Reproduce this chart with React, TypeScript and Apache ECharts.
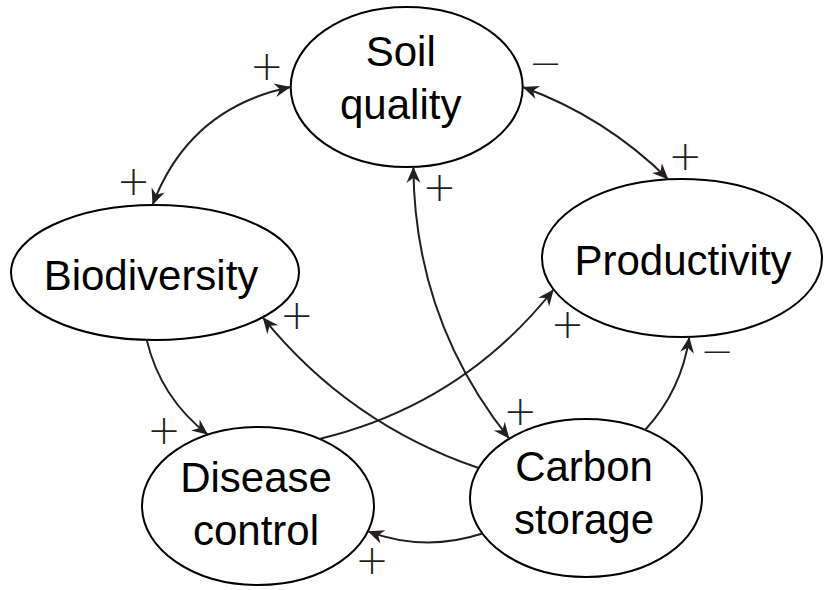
import React, { useEffect, useRef } from "react";
import * as echarts from "echarts";

// Nodes (diagram coordinates, 825 x 590 space, y downwards)
const nodeNames = ["Soil\nquality", "Biodiversity", "Productivity", "Disease\ncontrol", "Carbon\nstorage"];
const nodeX = [406.7, 155, 682, 258, 586];
const nodeY = [87, 272.5, 258, 506, 498];
const nodeRX = [116, 144, 140, 116, 116];
const nodeRY = [80, 67.5, 79, 79, 79];
const labelDx = [-6, -4, 1, -2, -2];
const labelDy = [-9, 3, 2, -2, -5];

// Edges: from -> to (arrow at "to"; both ends when edgeBoth)
const edgeFrom = [1, 0, 0, 4, 3, 1, 4, 4];
const edgeTo = [0, 2, 4, 1, 2, 3, 2, 3];
const edgeFromAngle = [269, 0, 86.7, 202.3, 301.9, 93.3, 300.6, 153.3];
const edgeToAngle = [180, 264.4, 228.6, 41.6, 156.5, 244.5, 87, 18.7];
const edgeBend = [50, 19, -50, 38, -48, -20, -16, 20];
const edgeBoth = [true, true, true, false, false, false, false, false];

// Signs at edge ends
const signFrom = ["+", "\u2212", "+", "", "", "", "", ""];
const signFromDx = [-19, 23, 26, 0, 0, 0, 0, 0];
const signFromDy = [-24, -24, 20, 0, 0, 0, 0, 0];
const signTo = ["+", "+", "+", "+", "+", "+", "\u2212", "+"];
const signToDx = [-24, 17, 11, 34, 14, -44, 28, 4];
const signToDy = [-21, -23, -28, -2, 34, -5, 14, 29];

const LINE = "#231f20";

function anchor(n: number, deg: number): number[] {
  const t = (deg * Math.PI) / 180;
  return [nodeX[n] + nodeRX[n] * Math.cos(t), nodeY[n] + nodeRY[n] * Math.sin(t)];
}

function edgeGeom(i: number) {
  const p0 = anchor(edgeFrom[i], edgeFromAngle[i]);
  const p2 = anchor(edgeTo[i], edgeToAngle[i]);
  const mx = (p0[0] + p2[0]) / 2;
  const my = (p0[1] + p2[1]) / 2;
  const dx = p2[0] - p0[0];
  const dy = p2[1] - p0[1];
  const len = Math.hypot(dx, dy) || 1;
  const nx = dy / len;
  const ny = -dx / len;
  const c = [mx + edgeBend[i] * nx, my + edgeBend[i] * ny];
  return { p0, p2, c };
}

// derived sign list
const signText: string[] = [];
const signX: number[] = [];
const signY: number[] = [];
edgeFrom.forEach((_, i) => {
  const g = edgeGeom(i);
  if (signFrom[i]) {
    signText.push(signFrom[i]);
    signX.push(g.p0[0] + signFromDx[i]);
    signY.push(g.p0[1] + signFromDy[i]);
  }
  if (signTo[i]) {
    signText.push(signTo[i]);
    signX.push(g.p2[0] + signToDx[i]);
    signY.push(g.p2[1] + signToDy[i]);
  }
});

function arrowHead(tip: number[], from: number[]) {
  let ux = tip[0] - from[0];
  let uy = tip[1] - from[1];
  const l = Math.hypot(ux, uy) || 1;
  ux /= l;
  uy /= l;
  const px = -uy;
  const py = ux;
  const L = 16, W = 7, N = 11;
  return [
    [tip[0], tip[1]],
    [tip[0] - L * ux + W * px, tip[1] - L * uy + W * py],
    [tip[0] - N * ux, tip[1] - N * uy],
    [tip[0] - L * ux - W * px, tip[1] - L * uy - W * py],
  ];
}

export default function App() {
  const ref = useRef<HTMLDivElement>(null);
  useEffect(() => {
    document.body.style.margin = "0";
    if (!ref.current) return;
    const chart = echarts.init(ref.current, null, { renderer: "svg" });
    const option: any = {
      animation: false,
      backgroundColor: "#ffffff",
      grid: { left: 0, right: 0, top: 0, bottom: 0 },
      xAxis: { type: "value", min: 0, max: 825, show: false },
      yAxis: { type: "value", min: 0, max: 590, inverse: true, show: false },
      series: [
        {
          type: "custom",
          name: "nodes",
          clip: false,
          z: 1,
          data: nodeX.map((x, i) => [x, nodeY[i]]),
          renderItem: (params: any, api: any) => {
            const i = params.dataIndex;
            const c = api.coord([nodeX[i], nodeY[i]]);
            const s = api.size([nodeRX[i], nodeRY[i]]);
            const lc = api.coord([nodeX[i] + labelDx[i], nodeY[i] + labelDy[i]]);
            return {
              type: "group",
              children: [
                {
                  type: "ellipse",
                  shape: { cx: c[0], cy: c[1], rx: Math.abs(s[0]), ry: Math.abs(s[1]) },
                  style: { fill: "#ffffff", stroke: "#000000", lineWidth: 2 },
                },
                {
                  type: "text",
                  x: lc[0],
                  y: lc[1],
                  style: {
                    text: nodeNames[i],
                    fontFamily: "'Liberation Sans', Arial, sans-serif",
                    fontSize: 42,
                    lineHeight: 53,
                    fill: "#000000",
                    align: "center",
                    verticalAlign: "middle",
                  },
                },
              ],
            };
          },
        },
        {
          type: "custom",
          name: "edges",
          clip: false,
          z: 2,
          data: edgeFrom.map((f, i) => [nodeX[f], nodeY[edgeTo[i]]]),
          renderItem: (params: any, api: any) => {
            const i = params.dataIndex;
            const g = edgeGeom(i);
            const p0 = api.coord(g.p0);
            const p2 = api.coord(g.p2);
            const c = api.coord(g.c);
            const children: any[] = [
              {
                type: "bezierCurve",
                shape: { x1: p0[0], y1: p0[1], x2: p2[0], y2: p2[1], cpx1: c[0], cpy1: c[1] },
                style: { stroke: LINE, lineWidth: 2, fill: "none" },
              },
              {
                type: "polygon",
                shape: { points: arrowHead(p2, c) },
                style: { fill: LINE, stroke: "none" },
              },
            ];
            if (edgeBoth[i]) {
              children.push({
                type: "polygon",
                shape: { points: arrowHead(p0, c) },
                style: { fill: LINE, stroke: "none" },
              });
            }
            return { type: "group", children };
          },
        },
        {
          type: "custom",
          name: "signs",
          clip: false,
          z: 3,
          data: signX.map((x, i) => [x, signY[i]]),
          renderItem: (params: any, api: any) => {
            const i = params.dataIndex;
            const c = api.coord([signX[i], signY[i]]);
            return {
              type: "text",
              x: c[0],
              y: c[1],
              style: {
                text: signText[i],
                fontFamily: "'DejaVu Sans', sans-serif",
                fontWeight: 200,
                fontSize: 40,
                fill: LINE,
                align: "center",
                verticalAlign: "middle",
              },
            };
          },
        },
      ],
    };
    chart.setOption(option);
    return () => chart.dispose();
  }, []);
  return <div ref={ref} style={{ width: 825, height: 590 }} />;
}
